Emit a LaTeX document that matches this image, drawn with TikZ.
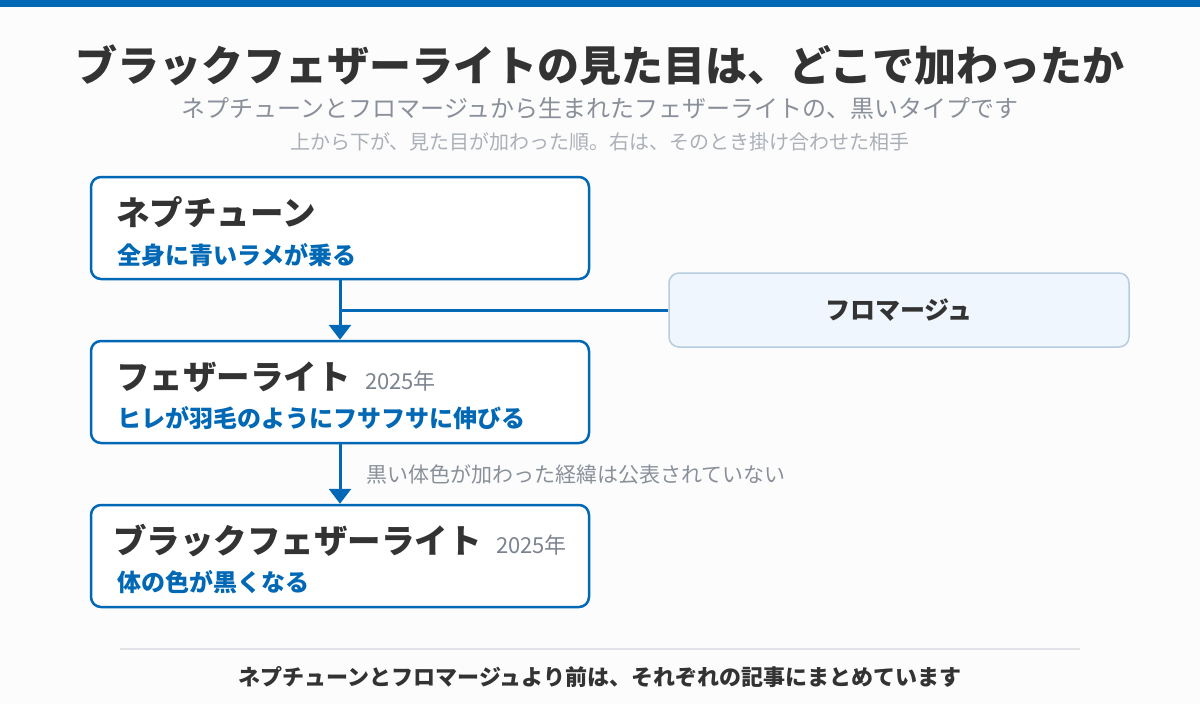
\documentclass[tikz,border=0pt]{standalone}
\usepackage{fontspec}
\setmainfont{Noto Sans CJK JP}
\usepackage{xcolor}
\usepackage{tikz}
\usetikzlibrary{arrows.meta}

\definecolor{fbblue}{HTML}{0068B5}
\definecolor{fbdark}{HTML}{333333}
\definecolor{fbgray}{HTML}{8A909A}
\definecolor{fblight}{HTML}{ABB0B8}
\definecolor{fbyear}{HTML}{7C8390}
\definecolor{fbpale}{HTML}{EFF6FD}
\definecolor{fbedge}{HTML}{B6CCE1}
\definecolor{fbrule}{HTML}{E1E3E8}
\definecolor{fbback}{HTML}{FCFCFC}

\newcommand{\fbsize}[1]{\fontsize{#1}{#1}\selectfont}

\tikzset{
	stagebox/.style={draw=fbblue, line width=2.5pt, rounded corners=10pt, fill=white,
		minimum width=498pt, minimum height=102pt, inner sep=0pt},
	partnerbox/.style={draw=fbedge, line width=1.5pt, rounded corners=10pt, fill=fbpale,
		minimum width=460pt, minimum height=74pt, inner sep=0pt, text=fbdark,
		font=\fbsize{25}\bfseries},
	stagename/.style={anchor=west, inner sep=0pt, text=fbdark, font=\fbsize{33.5}\bfseries},
	stagenote/.style={anchor=west, inner sep=0pt, text=fbblue, font=\fbsize{24}\bfseries},
	stageyear/.style={anchor=base west, inner sep=0pt, text=fbyear, font=\fbsize{22}},
	flow/.style={draw=fbblue, line width=3pt},
	flowarrow/.style={flow, -{Triangle[width=22pt,length=15pt]}}
}

\begin{document}
\begin{tikzpicture}[x=1pt, y=-1pt]
			\useasboundingbox (0,0) rectangle (1200,704);
			\fill[fbback] (0,0) rectangle (1200,704);
			\fill[fbblue] (0,0) rectangle (1200,7);

			% headings
			\node[text=fbdark, font=\fbsize{42}\bfseries] (title) at (600,65)
				{ブラックフェザーライトの見た目は、どこで加わったか};
			\node[text=fbgray, font=\fbsize{24}] (subtitle) at (600,108)
				{ネプチューンとフロマージュから生まれたフェザーライトの、黒いタイプです};
			\node[text=fblight, font=\fbsize{20}] (hint) at (600,142)
				{上から下が、見た目が加わった順。右は、そのとき掛け合わせた相手};

			% stages
			\node[stagebox] (nep) at (340,228) {};
			\node[stagename] (neptitle) at (116,212) {ネプチューン};
			\node[stagenote] (nepnote) at (117,255) {全身に青いラメが乗る};

			\node[partnerbox] (fro) at (899,310) {フロマージュ};

			\node[stagebox] (fea) at (340,392) {};
			\node[stagename] (featitle) at (116,377) {フェザーライト};
			\node[stageyear] (feayear) at ([xshift=14pt]featitle.base east) {2025年};
			\node[stagenote] (feanote) at (117,418) {ヒレが羽毛のようにフサフサに伸びる};

			\node[stagebox] (blk) at (340,556) {};
			\node[stagename] (blktitle) at (113,541) {ブラックフェザーライト};
			\node[stageyear] (blkyear) at ([xshift=14pt]blktitle.base east) {2025年};
			\node[stagenote] (blknote) at (117,582) {体の色が黒くなる};

			% connectors
			\draw[flowarrow] (nep.south) -- (fea.north);
			\draw[flow] (fro.west) -- (fro.west -| nep.south);
			\draw[flowarrow] (fea.south) -- (blk.north);
			\node[anchor=west, inner sep=0pt, text=fbgray, font=\fbsize{21}] (gap) at (366,475)
				{黒い体色が加わった経緯は公表されていない};

			% footer
			\draw[fbrule, line width=2pt] (120,649) -- (1080,649);
			\node[text=fbdark, font=\fbsize{22}\bfseries] (footer) at (600,677)
				{ネプチューンとフロマージュより前は、それぞれの記事にまとめています};
		\end{tikzpicture}
\end{document}
